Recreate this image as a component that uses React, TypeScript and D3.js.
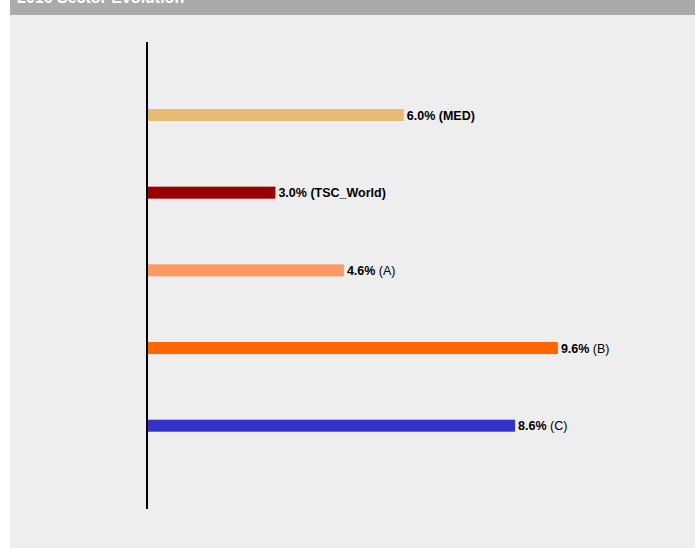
import React from "react";
import * as d3 from "d3";

const categories = ["MED", "TSC_World", "A", "B", "C"];
const values = [6.0, 3.0, 4.6, 9.6, 8.6];
const colors = ["#e5bc73", "#990000", "#ff9966", "#ff6600", "#3333cc"];
const boldName = [true, true, false, false, false];
const title = "2016 Sector Evolution";

const W = 685;
const H = 548;

export default function App() {
  const x = d3.scaleLinear().domain([0, 10]).range([137, 565]);
  const y = d3.scalePoint<string>().domain(categories).range([115, 425.7]);
  const barH = 12;
  const fmt = d3.format(".1f");
  return (
    <div style={{ position: "absolute", left: 10, top: 0 }}>
      <svg width={W} height={H} style={{ display: "block", fontFamily: "'Liberation Sans', Arial, sans-serif" }}>
        <rect x={0} y={0} width={W} height={H} fill="#eeeeee" />
        <rect x={0} y={0} width={W} height={15} fill="#aaaaaa" />
        <text x={7} y={3} fill="#ffffff" fontSize={16} fontWeight="bold">{title}</text>
        {categories.map((c, i) => {
          const cy = y(c) as number;
          return (
            <g key={c}>
              <rect x={x(0)} y={cy - barH / 2} width={x(values[i]) - x(0)} height={barH} fill={colors[i]} />
              <text x={x(values[i]) + 3} y={cy + 4.5} fontSize={12.5} fill="#000">
                <tspan fontWeight="bold">{fmt(values[i])}%</tspan>
                <tspan fontWeight={boldName[i] ? "bold" : "normal"}>{` (${c})`}</tspan>
              </text>
            </g>
          );
        })}
        <line x1={x(0)} x2={x(0)} y1={42} y2={509} stroke="#000" strokeWidth={2} />
      </svg>
    </div>
  );
}
